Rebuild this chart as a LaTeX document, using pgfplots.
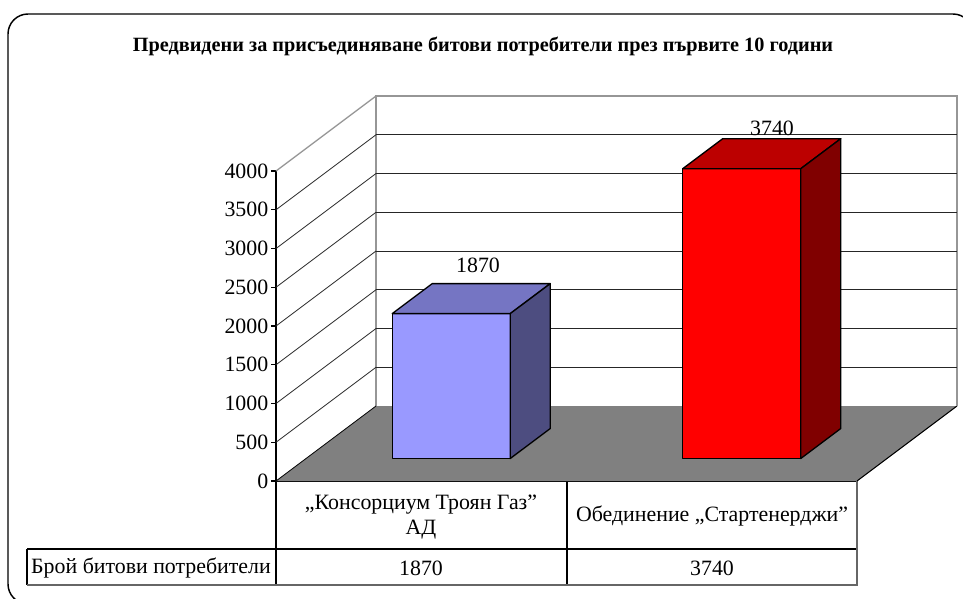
\documentclass[border=0pt]{standalone}
\usepackage{fontspec}
\setmainfont{Liberation Serif}
\usepackage{pgfplots}
\pgfplotsset{compat=1.18}
\definecolor{aFront}{HTML}{9999FF}
\definecolor{aTop}{HTML}{7575C3}
\definecolor{aSide}{HTML}{4D4D80}
\definecolor{bFront}{HTML}{FF0000}
\definecolor{bTop}{HTML}{BC0000}
\definecolor{bSide}{HTML}{800000}
\definecolor{floorgray}{HTML}{808080}
\definecolor{wallgray}{HTML}{969696}
\newcommand{\bodyfont}{\fontsize{16.4}{19}\selectfont}
\begin{document}
\begin{tikzpicture}
\begin{scope}[x=0.75pt,y=-0.75pt]
\useasboundingbox (0,0) rectangle (963,599);
\begin{scope}
\clip (0,0) rectangle (963,599);
\draw[line width=1.1pt, rounded corners=15pt] (8,14) rectangle (973,604);
\end{scope}
\node[font=\bfseries\fontsize{15.2}{17}\selectfont] at (483,46) {Предвидени за присъединяване битови потребители през първите 10 години};
% data table
\draw[black, line width=0.9pt] (276,481) -- (857,481);
\draw[black, line width=0.8pt] (276,481) -- (276,585);
\draw[black, line width=0.8pt] (567,481) -- (567,585);
\draw[black, line width=0.8pt] (27,549) -- (857,549);
\draw[black, line width=0.8pt] (27,549) -- (27,585);
\draw[black!60, line width=1.2pt] (857,481) -- (857,585) -- (27,585);
\node[font=\bodyfont] at (421,505) {„Консорциум Троян Газ”};
\node[font=\bodyfont] at (421,530) {АД};
\node[font=\bodyfont] at (712,516) {Обединение „Стартенерджи”};
\node[font=\bodyfont] at (151,568) {Брой битови потребители};
\node[font=\bodyfont] at (421,568) {1870};
\node[font=\bodyfont] at (712,568) {3740};
\end{scope}
\begin{axis}[
  at={(207pt,-360.75pt)}, anchor=south west,
  x=217.875pt, y=0.058125pt,
  xmin=0, xmax=2, ymin=0, ymax=4000,
  clip=false,
  axis x line=none,
  axis y line*=left,
  y axis line style={black, line width=0.8pt},
  ytick={0,500,1000,1500,2000,2500,3000,3500,4000},
  tick align=outside,
  major tick length=3.75pt,
  ytick style={black, line width=0.8pt},
  y tick label style={font=\bodyfont, xshift=1.5pt},
  /pgf/number format/assume math mode=true,
  /pgf/number format/1000 sep={},
]
% floor
\addplot[fill=floorgray, draw=none] coordinates {(0,0) (2,0) (2.3442,967.7) (0.3442,967.7)} --cycle;
\addplot[black, line width=0.8pt] coordinates {(2,0) (2.3442,967.7)};
% back wall edges
\addplot[wallgray, line width=1pt] coordinates {(0.3442,967.7) (0.3442,4967.7) (2.3442,4967.7) (2.3442,967.7)};
\addplot[wallgray, line width=1pt] coordinates {(0,4000) (0.3442,4967.7)};
% back wall gridlines
\addplot[black!85, line width=0.6pt] coordinates {(0.3442,1467.7) (2.3442,1467.7)};
\addplot[black!85, line width=0.6pt] coordinates {(0.3442,1967.7) (2.3442,1967.7)};
\addplot[black!85, line width=0.6pt] coordinates {(0.3442,2467.7) (2.3442,2467.7)};
\addplot[black!85, line width=0.6pt] coordinates {(0.3442,2967.7) (2.3442,2967.7)};
\addplot[black!85, line width=0.6pt] coordinates {(0.3442,3467.7) (2.3442,3467.7)};
\addplot[black!85, line width=0.6pt] coordinates {(0.3442,3967.7) (2.3442,3967.7)};
\addplot[black!85, line width=0.6pt] coordinates {(0.3442,4467.7) (2.3442,4467.7)};
% side wall gridlines
\addplot[black, line width=0.6pt] coordinates {(0,0) (0.3442,967.7)};
\addplot[black!85, line width=0.6pt] coordinates {(0,500) (0.3442,1467.7)};
\addplot[black!85, line width=0.6pt] coordinates {(0,1000) (0.3442,1967.7)};
\addplot[black!85, line width=0.6pt] coordinates {(0,1500) (0.3442,2467.7)};
\addplot[black!85, line width=0.6pt] coordinates {(0,2000) (0.3442,2967.7)};
\addplot[black!85, line width=0.6pt] coordinates {(0,2500) (0.3442,3467.7)};
\addplot[black!85, line width=0.6pt] coordinates {(0,3000) (0.3442,3967.7)};
\addplot[black!85, line width=0.6pt] coordinates {(0,3500) (0.3442,4467.7)};
% bar 1: 1870
\addplot[fill=aFront, draw=black, line width=1pt, line join=round] coordinates {(0.4002,290.3) (0.8064,290.3) (0.8064,2160.3) (0.4002,2160.3)} --cycle;
\addplot[fill=aTop, draw=black, line width=1pt, line join=round] coordinates {(0.4002,2160.3) (0.8064,2160.3) (0.9441,2547.4) (0.5379,2547.4)} --cycle;
\addplot[fill=aSide, draw=black, line width=1pt, line join=round] coordinates {(0.8064,290.3) (0.9441,677.4) (0.9441,2547.4) (0.8064,2160.3)} --cycle;
% bar 2: 3740
\addplot[fill=bFront, draw=black, line width=1pt, line join=round] coordinates {(1.4002,290.3) (1.8064,290.3) (1.8064,4030.3) (1.4002,4030.3)} --cycle;
\addplot[fill=bTop, draw=black, line width=1pt, line join=round] coordinates {(1.4002,4030.3) (1.8064,4030.3) (1.9441,4417.4) (1.5379,4417.4)} --cycle;
\addplot[fill=bSide, draw=black, line width=1pt, line join=round] coordinates {(1.8064,290.3) (1.9441,677.4) (1.9441,4417.4) (1.8064,4030.3)} --cycle;
\node[font=\bodyfont] at (axis cs:0.6954,2787) {1870};
\node[font=\bodyfont] at (axis cs:1.7074,4555) {3740};
\end{axis}
\end{tikzpicture}
\end{document}
